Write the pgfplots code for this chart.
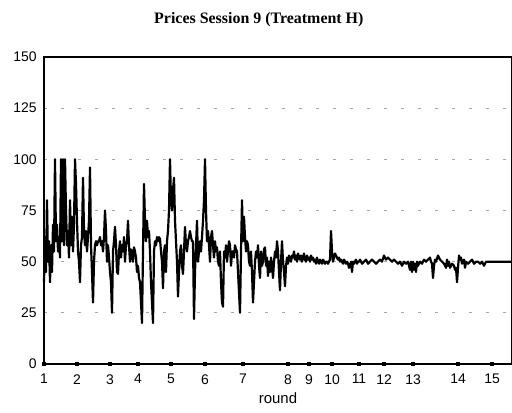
\documentclass[border=0pt]{standalone}
\usepackage{pgfplots}
\pgfplotsset{compat=1.18}
\usepackage{fontspec}
\setmainfont{Liberation Sans}
\newfontfamily\titlefont{Liberation Serif}
\begin{document}
\begin{tikzpicture}[x=1bp,y=1bp]
\begin{axis}[
  at={(0,0)}, anchor=south west,
  scale only axis,
  width=468bp, height=307bp,
  xmin=44, xmax=512, ymin=0, ymax=150,
  axis line style={line width=1.8bp},
  xtick={44,77,110,138,171,205,243,288,309,332,359,384,413,458,492},
  xticklabels={1,2,3,4,5,6,7,8,9,10,11,12,13,14,15},
  ytick={0,25,50,75,100,125,150},
  xtick pos=bottom, ytick pos=left,
  tick align=center,
  x tick style={line width=3.5bp, black},
  major tick length=3.5bp,
  y tick style={draw=none},
  ymajorgrids=true,
  grid style={gray!70, line width=0.8bp, dash pattern=on 3bp off 14bp},
  ticklabel style={font=\fontsize{14}{16}\selectfont},
  /pgf/number format/assume math mode=true,
  yticklabel style={xshift=-2bp},
  xticklabel style={yshift=-5bp},
  xlabel={round},
  xlabel style={font=\fontsize{15}{17}\selectfont, yshift=-2bp},
  clip=false,
]
\addplot[black, line width=2.2bp, line join=round] table {
x y
44 40
45 62
46 45
47 80
48 50
49 60
50 40
51 58
52 45
53 68
54 55
55 100
56 60
57 68
58 55
59 62
60 52
61 100
62 60
63 100
64 58
65 100
66 75
67 58
68 65
69 52
70 80
71 58
72 72
73 55
74 68
75 100
76 88
77 70
78 55
79 50
80 40
81 58
82 62
83 91
84 65
85 58
86 65
87 55
88 62
89 70
90 96
91 58
92 45
93 30
94 50
95 58
96 60
97 58
98 60
99 60
100 62
101 58
102 60
103 55
104 62
105 75
106 65
107 50
108 58
109 52
110 45
111 40
112 25
113 55
114 60
115 67
116 58
117 45
118 44
119 55
120 60
121 52
122 58
123 55
124 62
125 50
126 58
127 60
128 70
129 58
130 50
131 56
132 55
133 50
134 57
135 55
136 52
137 45
138 48
139 42
140 40
141 30
142 20
143 55
144 88
145 70
146 60
147 70
148 62
149 65
150 55
151 40
152 30
153 20
154 55
155 60
156 58
157 62
158 60
159 62
160 61
161 55
162 50
163 37
164 55
165 58
166 45
167 60
168 65
169 75
170 100
171 80
172 75
173 85
174 91
175 70
176 60
177 50
178 33
179 45
180 55
181 58
182 48
183 44
184 55
185 67
186 58
187 55
188 60
189 62
190 65
191 62
192 60
193 60
194 22
195 45
196 58
197 70
198 50
199 55
200 60
201 55
202 62
203 70
204 80
205 100
206 75
207 60
208 65
209 58
210 50
211 62
212 65
213 58
214 52
215 60
216 55
217 57
218 50
219 48
220 55
221 40
222 30
223 28
224 55
225 52
226 58
227 50
228 55
229 60
230 58
231 48
232 55
233 55
234 52
235 58
236 56
237 55
238 45
239 35
240 25
241 55
242 80
243 60
244 72
245 62
246 55
247 60
248 58
249 50
250 48
251 55
252 45
253 30
254 40
255 50
256 55
257 52
258 58
259 48
260 42
261 55
262 48
263 50
264 56
265 57
266 48
267 52
268 43
269 50
270 45
271 52
272 48
273 42
274 50
275 55
276 52
277 60
278 55
279 45
280 36
281 50
282 60
283 50
284 45
285 38
286 48
287 52
288 49
289 53
290 51
291 50
292 53
293 52
294 55
295 51
296 53
297 50
298 54
299 52
300 51
301 53
302 50
303 52
304 54
305 51
306 50
307 53
308 51
309 52
310 50
311 53
312 51
313 52
314 50
315 51
316 49
317 52
318 50
319 49
320 51
321 50
322 49
323 51
324 50
325 49
326 50
327 50
328 49
329 50
330 51
331 65
332 55
333 50
334 52
335 54
336 53
337 52
338 51
339 52
340 50
341 51
342 50
343 49
344 51
345 50
346 49
347 50
348 49
349 47
350 48
351 50
352 45
353 50
354 49
355 50
356 51
357 49
358 50
359 50
360 51
362 49
364 50
366 51
368 49
370 50
372 51
374 50
376 49
378 50
380 51
382 50
384 53
385 52
386 51
388 52
390 51
392 50
394 51
396 50
398 49
400 50
402 48
404 50
406 49
408 50
410 46
411 50
412 45
413 50
414 46
415 49
416 45
417 50
418 48
420 50
422 49
424 51
426 50
428 51
430 52
431 50
432 49
433 42
434 48
435 51
436 50
438 53
440 51
442 50
444 49
446 47
447 51
448 48
449 50
450 47
452 49
454 48
455 46
456 47
457 40
458 47
459 53
460 51
461 52
462 49
463 50
464 51
465 47
466 50
468 49
470 50
472 51
474 49
476 50
478 50
480 49
482 50
484 48
486 50
488 50
490 50
495 50
500 50
505 50
512 50
};
\node[font=\titlefont\bfseries\fontsize{16}{18}\selectfont] at (rel axis cs:0.459,1.12) {Prices Session 9 (Treatment H)};
\end{axis}
\pgfresetboundingbox
\path (-44,-48) rectangle (468,364);
\end{tikzpicture}
\end{document}
